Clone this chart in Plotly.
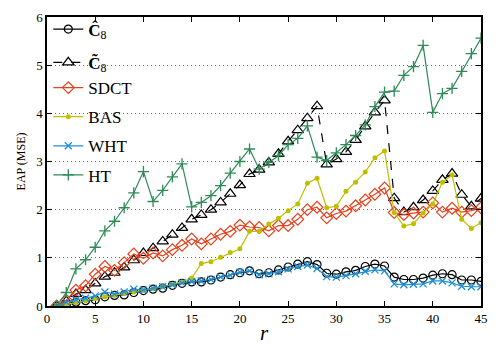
import plotly.graph_objects as go

r = list(range(1, 46))

c8_hat = [0, 0.03, 0.08, 0.11, 0.13, 0.19, 0.22, 0.23, 0.28, 0.32,
          0.35, 0.37, 0.43, 0.47, 0.50, 0.50, 0.54, 0.60, 0.65, 0.69,
          0.73, 0.67, 0.69, 0.75, 0.81, 0.87, 0.92, 0.86, 0.68, 0.66,
          0.71, 0.74, 0.82, 0.87, 0.83, 0.60, 0.55, 0.55, 0.58, 0.64,
          0.67, 0.65, 0.54, 0.54, 0.51]
c8_tilde = [0, 0.10, 0.25, 0.33, 0.47, 0.61, 0.69, 0.80, 0.95, 1.10,
            1.20, 1.34, 1.48, 1.62, 1.80, 1.89, 2.00, 2.15, 2.33, 2.51,
            2.74, 2.83, 2.98, 3.16, 3.42, 3.65, 3.90, 4.15, 2.94, 3.05,
            3.20, 3.45, 3.73, 4.02, 4.27, 2.24, 1.95, 2.05, 2.20, 2.39,
            2.62, 2.75, 2.31, 2.07, 2.23]
sdct = [0, 0.12, 0.33, 0.42, 0.66, 0.82, 0.74, 0.90, 1.08, 0.99,
        1.10, 1.04, 1.17, 1.26, 1.39, 1.29, 1.39, 1.49, 1.55, 1.68,
        1.64, 1.63, 1.56, 1.67, 1.67, 1.80, 2.00, 2.05, 1.83, 1.92,
        1.97, 2.08, 2.20, 2.32, 2.45, 1.94, 1.90, 1.93, 1.95, 2.14,
        1.95, 2.03, 1.95, 1.98, 2.04]
bas = [0, 0.03, 0.07, 0.11, 0.15, 0.19, 0.22, 0.26, 0.29, 0.32,
       0.36, 0.40, 0.45, 0.50, 0.58, 0.88, 0.92, 1.01, 1.11, 1.19,
       1.55, 1.55, 1.70, 1.82, 1.98, 2.12, 2.55, 2.65, 2.04, 2.07,
       2.38, 2.57, 2.78, 3.08, 3.22, 1.94, 1.66, 1.71, 1.93, 2.12,
       2.57, 2.72, 1.80, 1.61, 1.73]
wht = [0, 0.08, 0.13, 0.16, 0.21, 0.29, 0.25, 0.29, 0.35, 0.33,
       0.37, 0.40, 0.44, 0.48, 0.51, 0.52, 0.55, 0.60, 0.64, 0.70,
       0.73, 0.65, 0.67, 0.71, 0.77, 0.82, 0.85, 0.78, 0.61, 0.60,
       0.63, 0.67, 0.72, 0.75, 0.73, 0.46, 0.44, 0.45, 0.46, 0.52,
       0.52, 0.48, 0.41, 0.40, 0.40]
ht = [0, 0.28, 0.77, 0.96, 1.22, 1.56, 1.76, 2.04, 2.35, 2.79,
      2.17, 2.40, 2.68, 2.95, 2.06, 2.15, 2.29, 2.50, 2.76, 3.00,
      3.26, 2.84, 2.98, 3.12, 3.35, 3.48, 3.74, 3.09, 3.02, 3.18,
      3.35, 3.54, 3.76, 4.14, 4.44, 4.46, 4.79, 4.97, 5.41, 4.02,
      4.41, 4.52, 4.87, 5.24, 5.56]

x_ticks = [0, 5, 10, 15, 20, 25, 30, 35, 40, 45]
y_ticks = [0, 1, 2, 3, 4, 5, 6]

SERIF = "Liberation Serif"

series = [
    ("<b>Ĉ</b><sub>8</sub>", c8_hat, "black", "solid",
     dict(symbol="circle-open", size=8, color="black", line=dict(width=1.2)), "legend4"),
    ("<b>C̃</b><sub>8</sub>", c8_tilde, "black", "dash",
     dict(symbol="triangle-up-open", size=10, color="black", line=dict(width=1.2)), "legend3"),
    ("SDCT", sdct, "#e8401c", "solid",
     dict(symbol="diamond-open", size=9, color="#e8401c", line=dict(width=1.2)), "legend2"),
    ("BAS", bas, "#bfbf00", "solid",
     dict(symbol="circle", size=5, color="#bfbf00"), "legend2"),
    ("WHT", wht, "#1f8fd6", "solid",
     dict(symbol="x-thin-open", size=7, color="#1f8fd6", line=dict(width=1.3, color="#1f8fd6")), "legend2"),
    ("HT", ht, "#2e8b57", "solid",
     dict(symbol="cross-thin-open", size=8, color="#2e8b57", line=dict(width=1.3, color="#2e8b57")), "legend2"),
]

fig = go.Figure()
for name, vals, col, dash, mk, lg in series:
    fig.add_trace(go.Scatter(
        x=r, y=vals, name=name, mode="lines+markers",
        line=dict(color=col, width=1.2, dash=dash),
        marker=mk, legendgroup=name, legend=lg,
    ))

axis_common = dict(
    showline=True, linecolor="black", linewidth=1.5, mirror="ticks",
    ticks="inside", ticklen=5, tickcolor="black",
    tickfont=dict(family=SERIF, size=13, color="black"),
    zeroline=False,
)

fig.update_xaxes(range=[0, 45], tickvals=x_ticks, showgrid=False,
                 title=dict(text="<i>r</i>", font=dict(family=SERIF, size=21, color="black"),
                            standoff=0),
                 **axis_common)
fig.update_yaxes(range=[0, 6], tickvals=y_ticks, showgrid=True,
                 gridcolor="#666666", griddash="1px,3px", gridwidth=1,
                 title=dict(text="EAP (MSE)", font=dict(family=SERIF, size=12, color="black"),
                            standoff=8),
                 **axis_common)

leg_common = dict(x=0.003, xanchor="left", yanchor="top",
                  bgcolor="rgba(0,0,0,0)", borderwidth=0,
                  font=dict(family=SERIF, size=17, color="black"),
                  tracegroupgap=4, itemwidth=30)

# white legend box hiding the gridlines behind the legend (under the traces)
fig.add_shape(type="rect", xref="paper", yref="paper",
              x0=0.002, x1=0.219, y0=0.475, y1=0.995,
              fillcolor="white", line=dict(width=0), layer="between")

fig.update_layout(
    width=498, height=351,
    margin=dict(l=47, r=12, t=10, b=33),
    plot_bgcolor="white", paper_bgcolor="white",
    font=dict(family=SERIF, color="black"),
    showlegend=True,
    legend4=dict(y=1.019, **leg_common),
    legend3=dict(y=0.904, **leg_common),
    legend2=dict(y=0.8165, **leg_common),
)

fig.write_html("out.html")
